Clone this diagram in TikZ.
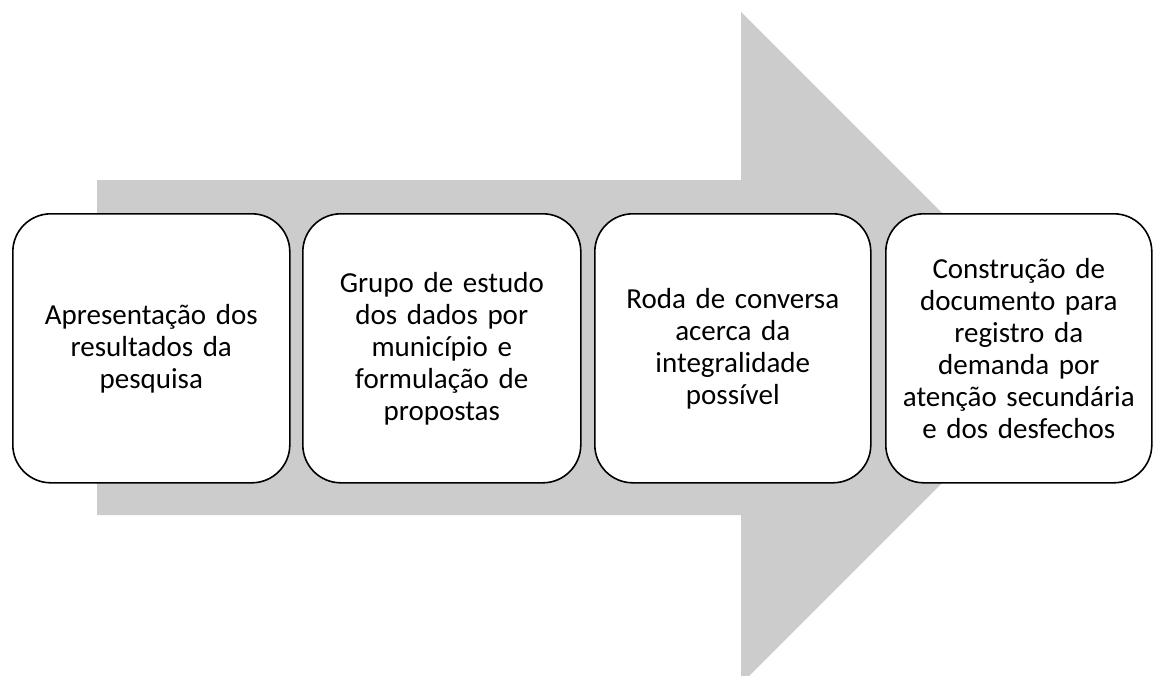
\documentclass[tikz,border=0pt]{standalone}
\usepackage{fontspec}
\setmainfont{Carlito}
\begin{document}
\begin{tikzpicture}[x=1pt,y=-1pt,
  stage/.style={draw=black,line width=1.6pt,fill=white,rounded corners=38pt,
    minimum height=269pt,align=center,anchor=north west,inner sep=2pt,
    font=\fontsize{29}{32}\selectfont}]
\useasboundingbox (0,0) rectangle (1154,675);
\fill[gray!40!white] (97,180) -- (741,180) -- (741,12) -- (1077,348) -- (741,684) -- (741,515) -- (97,515) -- cycle;
\node[stage,minimum width=277pt,text width=258pt] (s1) at (12,213) {Apresentação dos\\resultados da\\pesquisa};
\node[stage,minimum width=278pt,text width=258pt] (s2) at (302,213) {Grupo de estudo\\dos dados por\\município e\\formulação de\\propostas};
\node[stage,minimum width=276pt,text width=258pt] (s3) at (594,213) {Roda de conversa\\acerca da\\integralidade\\possível};
\node[stage,minimum width=266pt,text width=250pt] (s4) at (885,213) {Construção de\\documento para\\registro da\\demanda por\\atenção secundária\\e dos desfechos};
\end{tikzpicture}
\end{document}
